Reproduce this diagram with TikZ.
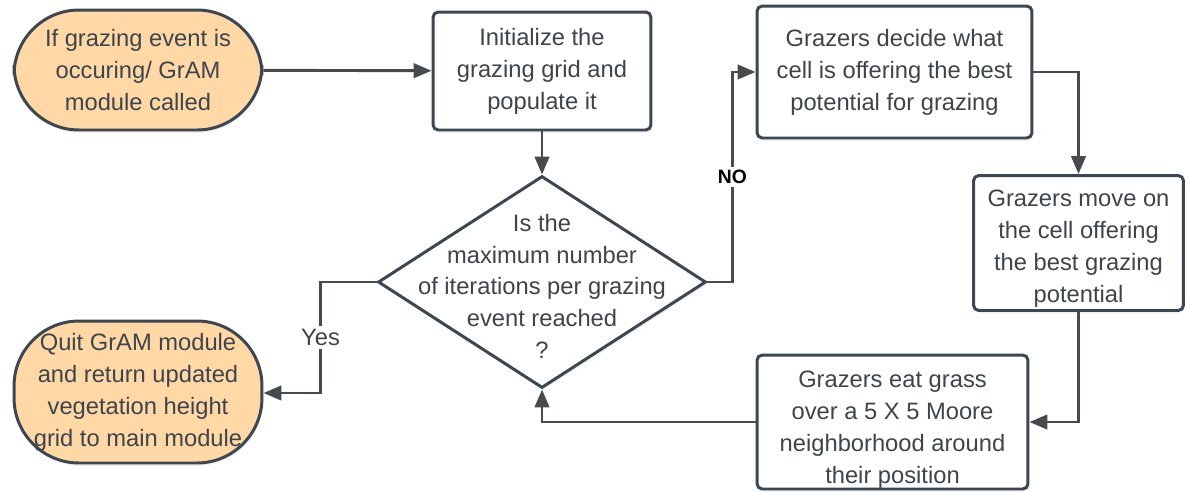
\documentclass[tikz,border=0pt]{standalone}
\usepackage{fontspec}
\setmainfont{Liberation Sans}
\usepackage{tikz}
\usetikzlibrary{positioning, arrows.meta, shapes.geometric, shadows}
\definecolor{edgegray}{HTML}{3D4752}
\definecolor{textgray}{HTML}{3E444C}
\definecolor{termfill}{HTML}{FFD8A6}
\definecolor{arrowgray}{HTML}{474B50}

\begin{document}
\begin{tikzpicture}[
    x=0.02cm, y=-0.02cm,
    >={Triangle[width=2.9mm,length=3.6mm]},
    soft shadow/.style={drop shadow={opacity=0.12, shadow xshift=0.6pt, shadow yshift=-1.6pt}},
    process/.style={rectangle, draw=edgegray, fill=white, soft shadow, line width=1.7pt, rounded corners=3pt, align=center, text=textgray, font=\fontsize{13.5}{18.2}\selectfont},
    terminal/.style={rectangle, draw=edgegray, fill=termfill, soft shadow, line width=1.7pt, rounded corners=1.3cm, inner sep=1pt, align=center, text=textgray, font=\fontsize{13.5}{18.2}\selectfont},
    decision/.style={diamond, draw=edgegray, fill=white, soft shadow, line width=1.7pt, inner sep=0pt},
    flow/.style={->, draw=arrowgray, line width=1.65pt},
    every label/.style={align=center, text=textgray, font=\fontsize{13.5}{18.2}\selectfont}
]
\useasboundingbox (0,0) rectangle (1187,491);

% Nodes
\node[terminal, minimum width=4.96cm, minimum height=2.4cm] (start) at (138,70) {If grazing event is\\occuring/ GrAM\\module called};
\node[process, minimum width=4.36cm, minimum height=2.36cm] (init) at (542,71) {Initialize the\\grazing grid and\\populate it};
\node[decision, minimum width=6.56cm, minimum height=4.24cm,
      label={[yshift=-2.5pt]center:{Is the\\maximum number\\of iterations per grazing\\event reached\\?}}] (check) at (542,282) {};
\node[process, minimum width=5.5cm, minimum height=2.64cm] (decide) at (894.5,72) {Grazers decide what\\cell is offering the best\\potential for grazing};
\node[process, minimum width=4.2cm, minimum height=2.7cm,
      label={[yshift=-3pt]center:{Grazers move on\\the cell offering\\the best grazing\\potential}}] (move) at (1078.5,243) {};
\node[process, minimum width=5.42cm, minimum height=2.68cm,
      label={[yshift=-4.5pt]center:{Grazers eat grass\\over a 5 X 5 Moore\\neighborhood around\\their position}}] (eat) at (892.5,422) {};
\node[terminal, minimum width=4.96cm, minimum height=2.84cm] (quit) at (138,392) {Quit GrAM module\\and return updated\\vegetation height\\grid to main module};

% Arrows
\draw[flow] (start) -- (init);
\draw[flow] (init) -- (check);
\draw[flow] (check.east) -- ++(25,0) |- node[pos=0.25, fill=white, inner sep=2pt, font=\fontsize{11}{13}\selectfont\bfseries]{NO} (decide.west);
\draw[flow] (decide.east) -| (move.north);
\draw[flow] (move.south) |- (eat.east);
\draw[flow] (eat.west) -| (check.south);
\draw[flow] (check.west) -- ++(-56,0) |- node[pos=0.25, fill=white, inner sep=2pt, text=textgray, font=\fontsize{13.5}{18.2}\selectfont]{Yes} ([yshift=-0.02cm]quit.east);

\end{tikzpicture}
\end{document}
